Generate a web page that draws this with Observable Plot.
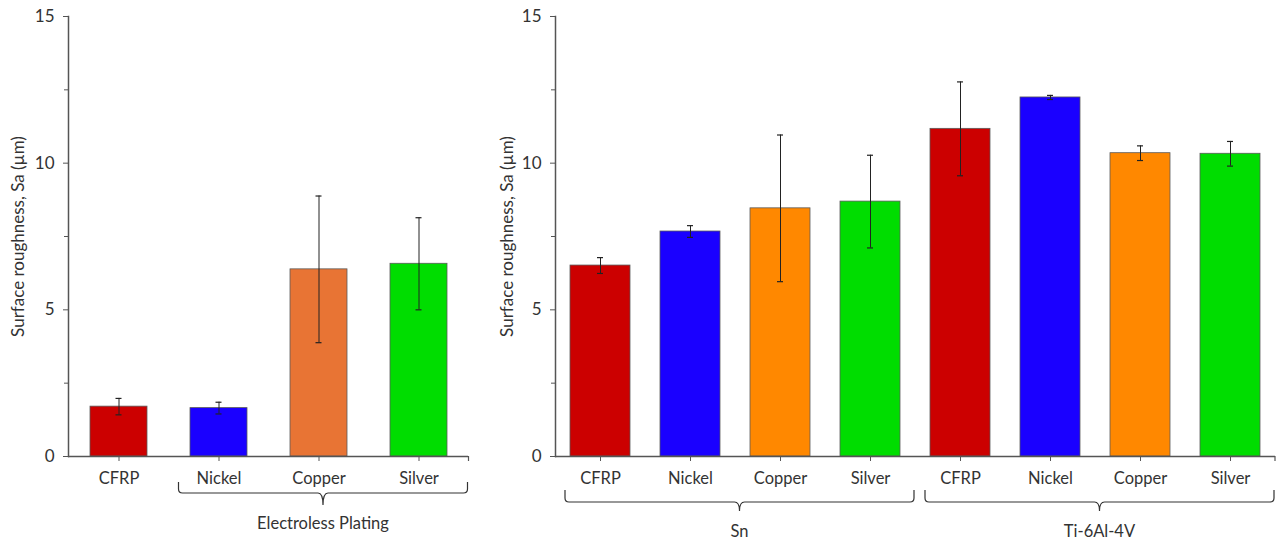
<!DOCTYPE html>
<html>
<head>
<meta charset="utf-8">
<script src="https://cdn.jsdelivr.net/npm/d3@7"></script>
<script src="https://cdn.jsdelivr.net/npm/@observablehq/plot@0.6"></script>
<style>
  html, body { margin: 0; padding: 0; background: #fff; }
  #row { display: flex; flex-direction: row; width: 1278px; height: 540px; }
</style>
</head>
<body>
<div id="row"></div>
<script>
// ---------- Data ----------
const coatings = ["CFRP", "Nickel", "Copper", "Silver"];

// Left panel: CFRP with electroless plating
const leftMeans  = [1.70, 1.65, 6.38, 6.57];
const leftErrors = [0.28, 0.20, 2.50, 1.57];
const leftGroupLabel = "Electroless Plating";
const leftGroupMembers = ["Nickel", "Copper", "Silver"];

// Right panel: substrates
const substrates = ["Sn", "Ti-6Al-4V"];
const snMeans  = [6.51, 7.67, 8.46, 8.69];
const snErrors = [0.27, 0.20, 2.50, 1.58];
const tiMeans  = [11.17, 12.24, 10.34, 10.32];
const tiErrors = [1.60, 0.07, 0.25, 0.42];

const yTicksMajor = [0, 5, 10, 15];
const yTicksMinor = [2.5, 7.5, 12.5];
const yLabel = "Surface roughness, Sa (µm)";

// ---------- Styles ----------
const leftColors  = {CFRP: "#cc0000", Nickel: "#1a00ff", Copper: "#e87434", Silver: "#00dd00"};
const rightColors = {CFRP: "#cc0000", Nickel: "#1a00ff", Copper: "#ff8800", Silver: "#00dd00"};
const axisColor = "#555";
const textColor = "#333";
const font = "Lato, 'Open Sans', sans-serif";

// ---------- Tables ----------
const leftData = coatings.map((c, i) => ({key: c, coating: c, mean: leftMeans[i], err: leftErrors[i]}));
const rightData = [
  ...coatings.map((c, i) => ({key: "Sn|" + c, group: "Sn", coating: c, mean: snMeans[i], err: snErrors[i]})),
  ...coatings.map((c, i) => ({key: "Ti|" + c, group: "Ti-6Al-4V", coating: c, mean: tiMeans[i], err: tiErrors[i]}))
];

function panel({data, colors, width, marginLeft, marginRight, paddingInner, capHalf, labelOffset}) {
  const keys = data.map(d => d.key);
  const lab = new Map(data.map(d => [d.key, d.coating]));
  const bandStep = (width - marginLeft - marginRight) / keys.length;
  const bw = bandStep * (1 - paddingInner);
  const inset = bw / 2 - capHalf;
  return Plot.plot({
    width, height: 540,
    marginLeft, marginRight, marginTop: 16, marginBottom: 84,
    style: {fontFamily: font, fontSize: "16px", color: textColor, background: "#fff"},
    x: {domain: keys, paddingInner, paddingOuter: paddingInner / 2, label: null},
    y: {domain: [0, 15], label: null},
    marks: [
      Plot.barY(data, {x: "key", y: "mean", fill: d => colors[d.coating], stroke: "#5a5a5a", strokeWidth: 0.8}),
      Plot.ruleX(data, {x: "key", y1: d => d.mean - d.err, y2: d => d.mean + d.err, stroke: "#222", strokeWidth: 1}),
      Plot.tickY(data, {x: "key", y: d => d.mean - d.err, stroke: "#222", strokeWidth: 1.2, insetLeft: inset, insetRight: inset}),
      Plot.tickY(data, {x: "key", y: d => d.mean + d.err, stroke: "#222", strokeWidth: 1.2, insetLeft: inset, insetRight: inset}),
      Plot.axisY({ticks: yTicksMajor, tickSize: 5, tickPadding: 9, stroke: axisColor, fill: textColor, fontSize: 17,
        label: yLabel, labelAnchor: "center", labelArrow: "none", labelOffset}),
      Plot.axisY({ticks: yTicksMinor, tickSize: 4, tickFormat: () => "", stroke: axisColor, label: null}),
      Plot.axisX({tickSize: 5, tickPadding: 11, tickFormat: k => lab.get(k), stroke: axisColor, fill: textColor, fontSize: 16.5, label: null}),
      Plot.frame({anchor: "left", stroke: axisColor, strokeWidth: 1.5}),
      Plot.ruleY([0], {stroke: axisColor, strokeWidth: 1.5})
    ]
  });
}

function annotate(plot, groups, off) {
  const sx = plot.scale("x");
  const sy = plot.scale("y");
  const y0 = sy.apply(0);
  const dom = sx.domain;
  const step = sx.apply(dom[1]) - sx.apply(dom[0]);
  const center = k => sx.apply(k) + sx.bandwidth / 2;
  const svg = d3.select(plot);
  const xEnd = center(dom[dom.length - 1]) + step / 2;
  svg.append("line").attr("x1", xEnd).attr("x2", xEnd).attr("y1", y0).attr("y2", y0 + 5)
    .attr("stroke", axisColor).attr("stroke-width", 1.2);
  const g = svg.append("g").attr("fill", "none").attr("stroke", textColor).attr("stroke-width", 1.2);
  for (const grp of groups) {
    const x1 = center(grp.first) - step / 2 + 10;
    const x2 = center(grp.last) + step / 2 - 1;
    const cx = (x1 + x2) / 2;
    const top = y0 + off.top, line = y0 + off.line, pt = y0 + off.point, r = 4;
    const p = `M${x1},${top} L${x1},${line - r} Q${x1},${line} ${x1 + r},${line} L${cx - 5},${line} Q${cx},${line} ${cx},${pt}` +
              ` M${cx},${pt} Q${cx},${line} ${cx + 5},${line} L${x2 - r},${line} Q${x2},${line} ${x2},${line - r} L${x2},${top}`;
    g.append("path").attr("d", p);
    svg.append("text").attr("x", cx).attr("y", y0 + off.label).attr("dy", "0.35em")
      .attr("text-anchor", "middle").attr("fill", textColor)
      .style("font-family", font).style("font-size", "16.5px").text(grp.label);
  }
}

const row = document.getElementById("row");

const left = panel({data: leftData, colors: leftColors, width: 490, marginLeft: 68, marginRight: 22, paddingInner: 0.43, capHalf: 3, labelOffset: 57});
row.appendChild(left);
annotate(left, [{label: leftGroupLabel, first: leftGroupMembers[0], last: leftGroupMembers[leftGroupMembers.length - 1]}],
  {top: 26, line: 37, point: 49, label: 67});

const right = panel({data: rightData, colors: rightColors, width: 788, marginLeft: 65, marginRight: 3, paddingInner: 1 / 3, capHalf: 3, labelOffset: 55});
row.appendChild(right);
annotate(right, substrates.map(s => {
  const ks = rightData.filter(d => d.group === s).map(d => d.key);
  return {label: s, first: ks[0], last: ks[ks.length - 1]};
}), {top: 34, line: 46, point: 55, label: 75});
</script>
</body>
</html>
